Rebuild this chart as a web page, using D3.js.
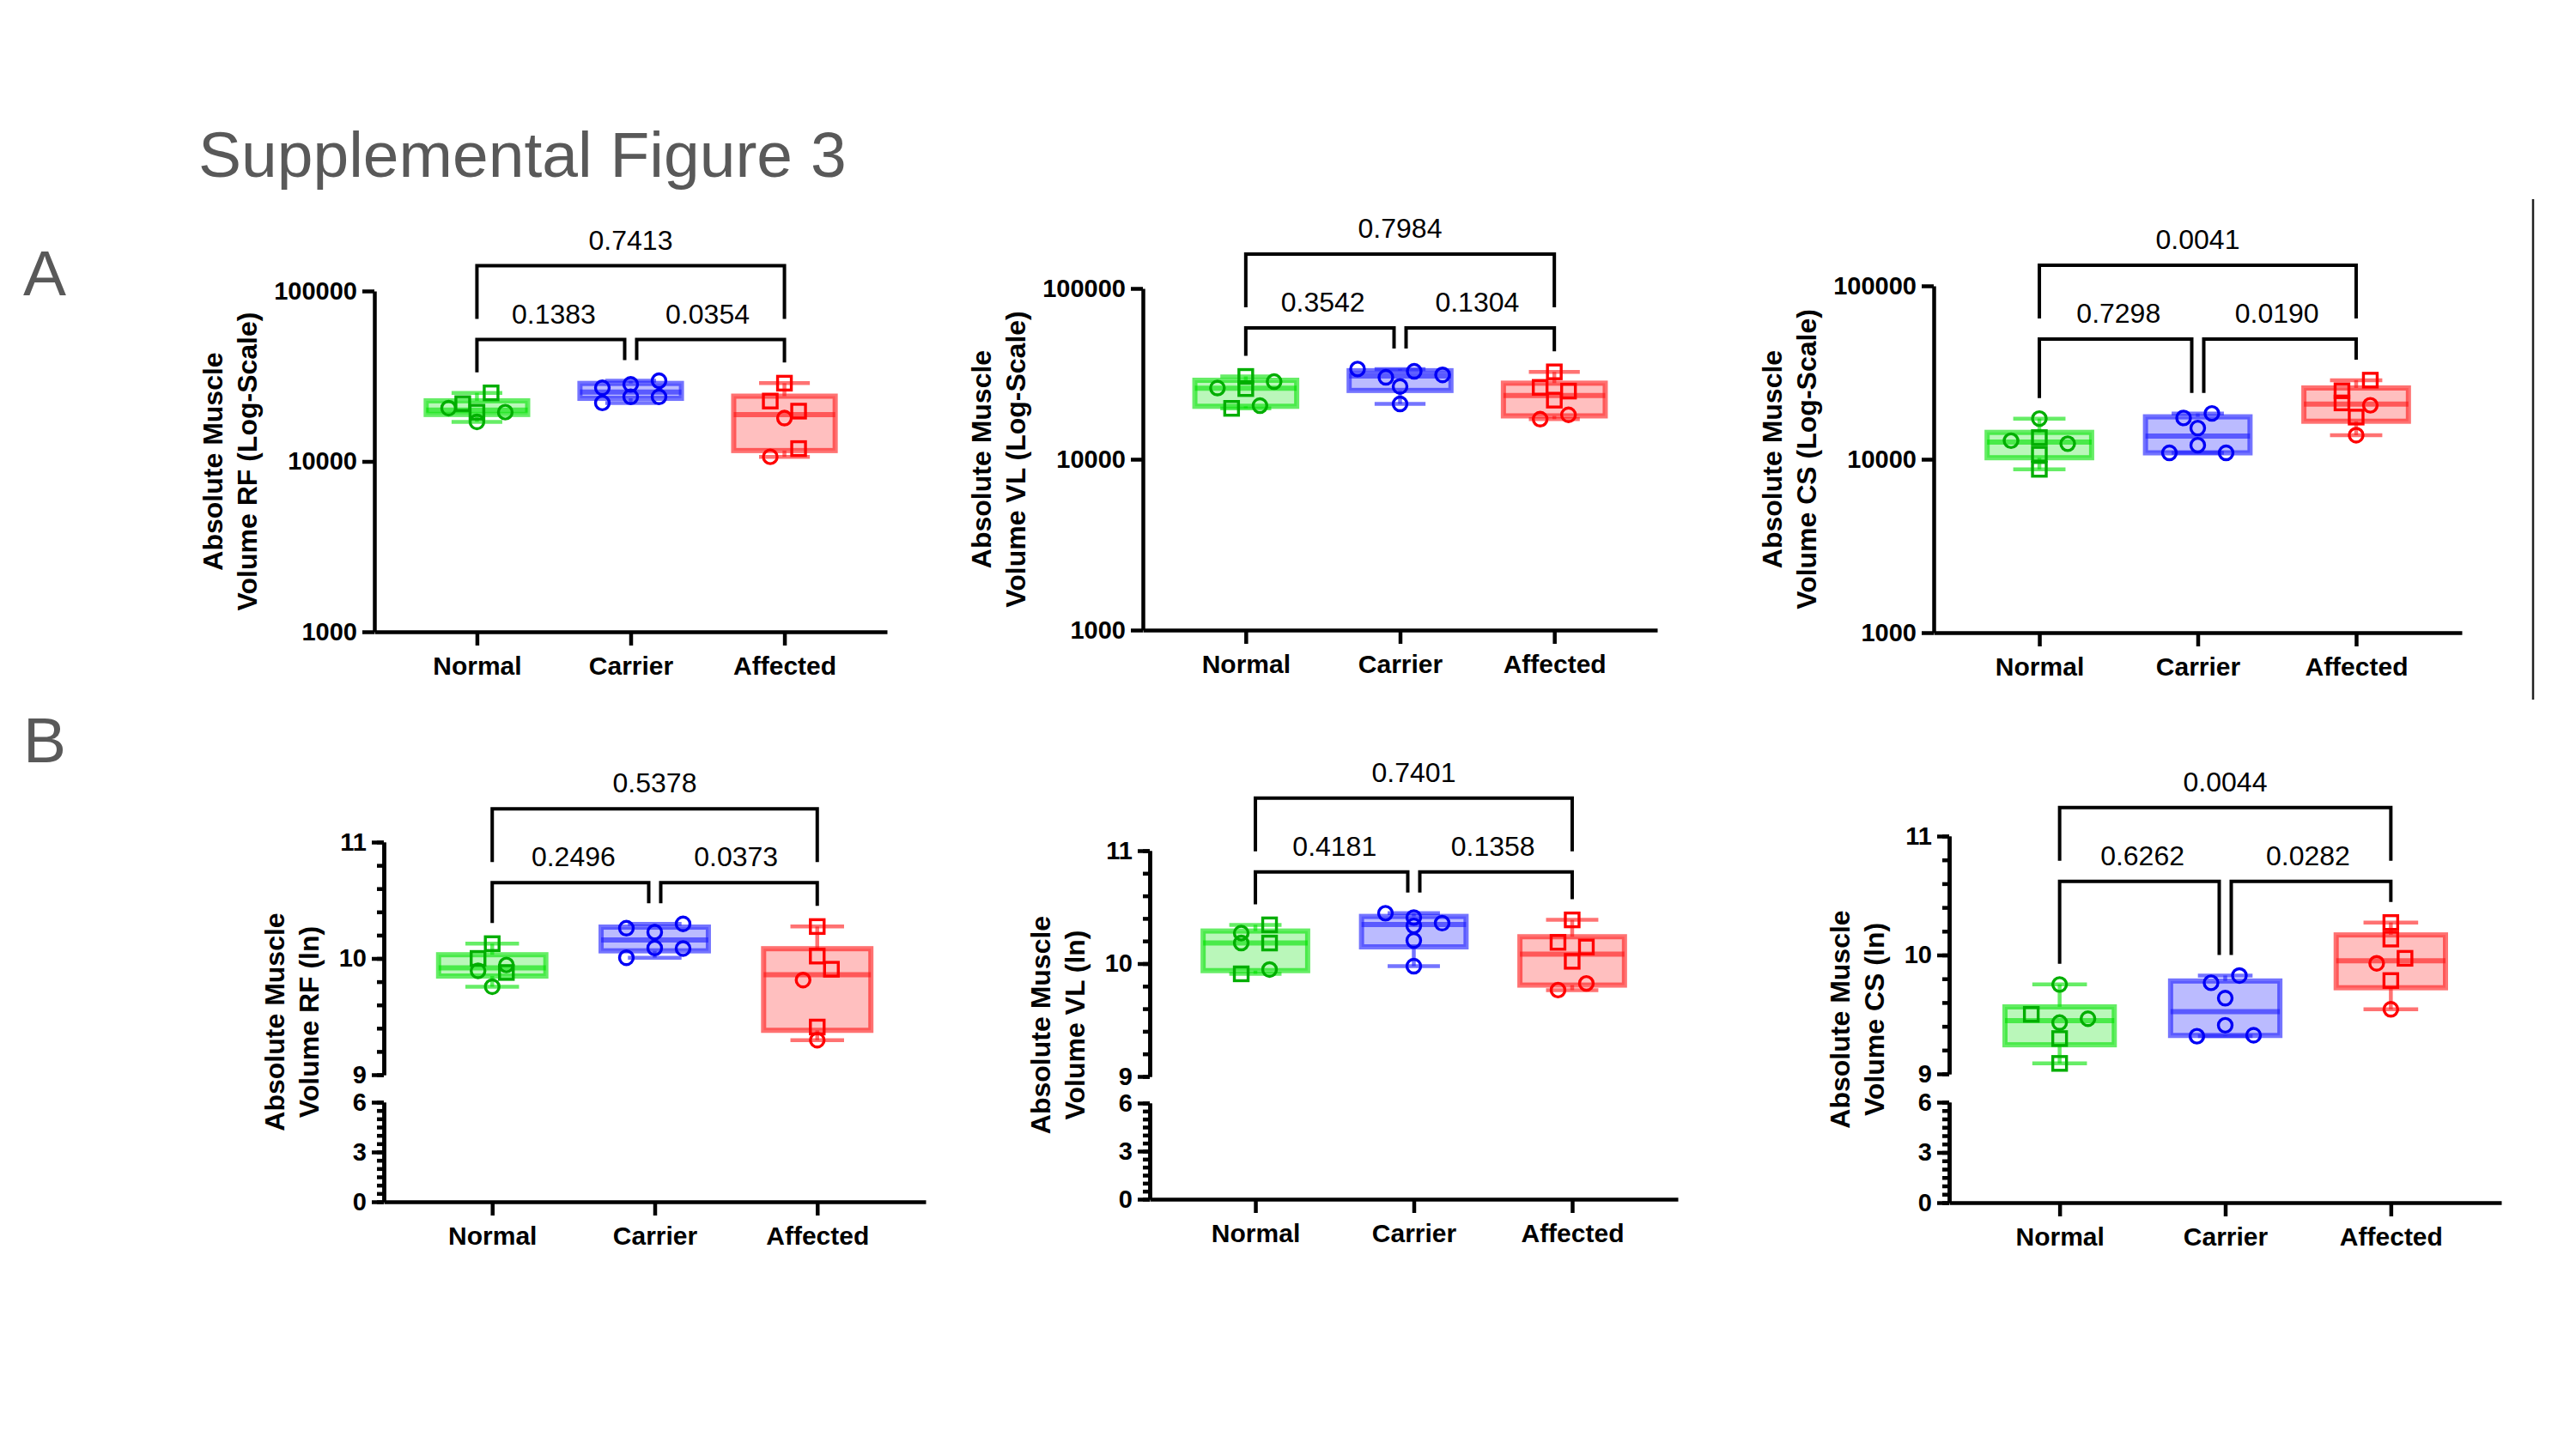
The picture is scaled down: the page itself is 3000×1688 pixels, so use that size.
<!DOCTYPE html>
<html>
<head>
<meta charset="utf-8">
<script src="https://cdn.jsdelivr.net/npm/d3@7"></script>
<style>
  html, body { margin: 0; padding: 0; background: #fff; }
  svg { display: block; }
</style>
</head>
<body>
<script>
// ---------------- DATA ----------------
const groups = ["Normal", "Carrier", "Affected"];
const logTicks = [1000, 10000, 100000];
const lnTicksUpper = [9, 10, 11];
const lnTicksLower = [0, 3, 6];

// Row A : absolute muscle volume, log scale
const rfLogValues = [[20540, 17060, 21830, 25240, 19450, 19450],
                     [27040, 22030, 28320, 23920, 29730, 23920],
                     [22600, 17950, 10640, 28780, 19720, 11890]];
const rfLogShapes = [["o","o","s","s","s","o"], ["o","o","o","o","o","o"], ["s","o","o","s","s","s"]];
const rfLogP = ["0.1383", "0.0354", "0.7413"];

const vlLogValues = [[26110, 30530, 19860, 25920, 20600, 28480],
                     [33740, 30170, 21080, 32730, 26680, 31190],
                     [26350, 17170, 32480, 22180, 18200, 25060]];
const vlLogShapes = [["o","s","s","s","o","o"], ["o","o","o","o","o","o"], ["s","o","s","s","o","s"]];
const vlLogP = ["0.3542", "0.1304", "0.7984"];

const csLogValues = [[12790, 17160, 13330, 10690, 8750, 12300],
                     [17300, 10890, 15130, 12050, 18370, 10890],
                     [21130, 24830, 17500, 13770, 28580, 20480]];
const csLogShapes = [["o","o","s","s","s","o"], ["o","o","o","o","o","o"], ["s","s","s","o","s","o"]];
const csLogP = ["0.7298", "0.0190", "0.0041"];

// Row B : absolute muscle volume, natural log
const rfLnValues = [[10.0, 9.893, 10.127, 9.757, 9.944, 9.879],
                    [10.26, 10.006, 10.226, 10.09, 10.297, 10.085],
                    [10.02, 9.814, 9.297, 10.274, 9.907, 9.41]];
const rfLnShapes = [["s","o","s","o","o","s"], ["o","o","o","o","o","o"], ["s","o","o","s","s","s"]];
const rfLnP = ["0.2496", "0.0373", "0.5378"];

const vlLnValues = [[10.182, 9.909, 10.27, 9.947, 10.343, 10.182],
                    [10.446, 10.334, 9.977, 10.408, 10.205, 10.358],
                    [10.188, 10.02, 9.765, 10.387, 10.147, 9.824]];
const vlLnShapes = [["o","s","o","o","s","s"], ["o","o","o","o","o","o"], ["s","s","o","s","s","o"]];
const vlLnP = ["0.4181", "0.1358", "0.7401"];

const csLnValues = [[9.501, 9.752, 9.431, 9.297, 9.088, 9.464],
                    [9.317, 9.766, 9.637, 9.409, 9.827, 9.325],
                    [9.930, 10.273, 10.134, 9.785, 9.543, 9.972]];
const csLnShapes = [["s","o","o","s","s","o"], ["o","o","o","o","o","o"], ["o","s","s","s","o","s"]];
const csLnP = ["0.6262", "0.0282", "0.0044"];

// ---------------- STYLE / LAYOUT ----------------
const W = 3000, H = 1688;
const FONT = '"Liberation Sans", Arial, Helvetica, sans-serif';
const palette = [
  { point: "#00ae00", fill: "rgba(0,225,0,0.27)", stroke: "rgba(0,225,0,0.6)" },
  { point: "#0000f5", fill: "rgba(30,30,255,0.30)", stroke: "rgba(30,30,255,0.62)" },
  { point: "#ff0000", fill: "rgba(255,0,0,0.25)", stroke: "rgba(255,20,20,0.6)" }
];

const panels = [
  { values: rfLogValues, shapes: rfLogShapes, p: rfLogP, label: "Volume RF (Log-Scale)", kind: "log",
    frame: { x0: 436, x1: 1033, yTop: 339, yBot: 736 } },
  { values: vlLogValues, shapes: vlLogShapes, p: vlLogP, label: "Volume VL (Log-Scale)", kind: "log",
    frame: { x0: 1331, x1: 1930, yTop: 336, yBot: 734 } },
  { values: csLogValues, shapes: csLogShapes, p: csLogP, label: "Volume CS (Log-Scale)", kind: "log",
    frame: { x0: 2252, x1: 2867, yTop: 333, yBot: 737 } },
  { values: rfLnValues, shapes: rfLnShapes, p: rfLnP, label: "Volume RF (ln)", kind: "ln",
    frame: { x0: 447, x1: 1078, y11: 981, y9: 1252, y6: 1284, y0: 1400 } },
  { values: vlLnValues, shapes: vlLnShapes, p: vlLnP, label: "Volume VL (ln)", kind: "ln",
    frame: { x0: 1339, x1: 1954, y11: 991, y9: 1254, y6: 1285, y0: 1397 } },
  { values: csLnValues, shapes: csLnShapes, p: csLnP, label: "Volume CS (ln)", kind: "ln",
    frame: { x0: 2270, x1: 2913, y11: 974, y9: 1251, y6: 1284, y0: 1401 } }
];

const svg = d3.select("body").append("svg").attr("width", W).attr("height", H)
  .attr("font-family", FONT);
svg.append("rect").attr("width", W).attr("height", H).attr("fill", "#fff");

// Figure title and panel letters
svg.append("text").attr("x", 231).attr("y", 206).attr("font-size", 75)
  .attr("fill", "#595959").text("Supplemental Figure 3");
svg.append("text").attr("x", 27).attr("y", 344).attr("font-size", 75)
  .attr("fill", "#595959").text("A");
svg.append("text").attr("x", 27).attr("y", 888).attr("font-size", 75)
  .attr("fill", "#595959").text("B");
svg.append("line").attr("x1", 2950).attr("x2", 2950).attr("y1", 232).attr("y2", 815)
  .attr("stroke", "#222").attr("stroke-width", 2.5);

function styleAxis(ax, fontSize) {
  ax.attr("font-size", null).attr("font-family", null);
  ax.select(".domain").attr("stroke", "#000").attr("stroke-width", 4.5);
  ax.selectAll(".tick line").attr("stroke", "#000").attr("stroke-width", 4.5);
  ax.selectAll(".tick text").attr("fill", "#000").attr("font-family", FONT)
    .attr("font-weight", "bold").attr("font-size", fontSize);
}

// Prism-style quartile (n+1 method)
function quartile(sorted, p) {
  const n = sorted.length, pos = (n + 1) * p;
  const lo = Math.floor(pos), f = pos - lo;
  if (lo < 1) return sorted[0];
  if (lo >= n) return sorted[n - 1];
  return sorted[lo - 1] + f * (sorted[lo] - sorted[lo - 1]);
}

// Column-scatter arrangement: points grouped into rows, centred in each row
function arrange(vals, yf, d, th) {
  const idx = vals.map((v, i) => i).sort((a, b) => yf(vals[a]) - yf(vals[b]));
  const offs = new Array(vals.length).fill(0);
  const rows = [];
  let cur = [], start = null;
  idx.forEach(i => {
    const yy = yf(vals[i]);
    if (cur.length && yy - start < th) cur.push(i);
    else { if (cur.length) rows.push(cur); cur = [i]; start = yy; }
  });
  if (cur.length) rows.push(cur);
  rows.forEach(r => {
    r.sort((a, b) => a - b);
    r.forEach((i, k) => { offs[i] = (k - (r.length - 1) / 2) * d; });
  });
  return offs;
}

panels.forEach(pn => {
  const f = pn.frame;
  const g = svg.append("g");
  const x = d3.scalePoint().domain(groups).range([f.x0, f.x1]).padding(0.667);
  const step = x.step();
  let y, baseY, midY, titleOffset;

  if (pn.kind === "log") {
    y = d3.scaleLog().domain([1000, 100000]).range([f.yBot, f.yTop]);
    baseY = f.yBot; midY = (f.yTop + f.yBot) / 2; titleOffset = 149;
    const ax = g.append("g").attr("transform", `translate(${f.x0},0)`)
      .call(d3.axisLeft(y).tickValues(logTicks).tickFormat(d3.format("d"))
        .tickSize(14).tickSizeOuter(0).tickPadding(6));
    styleAxis(ax, 29);
  } else {
    y = d3.scaleLinear().domain([9, 11]).range([f.y9, f.y11]);
    const yLow = d3.scaleLinear().domain([0, 6]).range([f.y0, f.y6]);
    baseY = f.y0; midY = (f.y11 + f.y0) / 2; titleOffset = 88;
    const minorUp = g.append("g").attr("transform", `translate(${f.x0},0)`)
      .call(d3.axisLeft(y).tickValues(d3.range(9, 11.001, 0.2)).tickFormat("")
        .tickSize(8).tickSizeOuter(0));
    styleAxis(minorUp, 29);
    const axUp = g.append("g").attr("transform", `translate(${f.x0},0)`)
      .call(d3.axisLeft(y).tickValues(lnTicksUpper).tickFormat(d3.format("d"))
        .tickSize(14).tickSizeOuter(0).tickPadding(6));
    styleAxis(axUp, 29);
    const minorLow = g.append("g").attr("transform", `translate(${f.x0},0)`)
      .call(d3.axisLeft(yLow).tickValues(d3.range(0, 6.001, 0.5)).tickFormat("")
        .tickSize(8).tickSizeOuter(0));
    styleAxis(minorLow, 29);
    const axLow = g.append("g").attr("transform", `translate(${f.x0},0)`)
      .call(d3.axisLeft(yLow).tickValues(lnTicksLower).tickFormat(d3.format("d"))
        .tickSize(14).tickSizeOuter(0).tickPadding(6));
    styleAxis(axLow, 29);
  }

  // x axis
  const axX = g.append("g").attr("transform", `translate(0,${baseY})`)
    .call(d3.axisBottom(x).tickSize(16).tickSizeOuter(0).tickPadding(13));
  styleAxis(axX, 30);

  // y axis title (two lines)
  const t2x = f.x0 - titleOffset, t1x = t2x - 40;
  [["Absolute Muscle", t1x], [pn.label, t2x]].forEach(([txt, cx]) => {
    g.append("text")
      .attr("transform", `translate(${cx + 11.5},${midY}) rotate(-90)`)
      .attr("text-anchor", "middle").attr("font-weight", "bold").attr("font-size", 32)
      .attr("fill", "#000").text(txt);
  });

  // boxes
  const bw = step * 0.66, cw = step * 0.33;
  const stats = pn.values.map(vals => {
    const s = vals.slice().sort((a, b) => a - b);
    return { min: s[0], q1: quartile(s, 0.25), med: quartile(s, 0.5), q3: quartile(s, 0.75), max: s[s.length - 1] };
  });

  groups.forEach((gr, gi) => {
    const cx = x(gr), st = stats[gi], col = palette[gi];
    const bg = g.append("g");
    // whiskers
    bg.append("line").attr("x1", cx).attr("x2", cx).attr("y1", y(st.max)).attr("y2", y(st.q3))
      .attr("stroke", col.stroke).attr("stroke-width", 4.5);
    bg.append("line").attr("x1", cx).attr("x2", cx).attr("y1", y(st.q1)).attr("y2", y(st.min))
      .attr("stroke", col.stroke).attr("stroke-width", 4.5);
    [st.max, st.min].forEach(v => {
      bg.append("line").attr("x1", cx - cw / 2).attr("x2", cx + cw / 2).attr("y1", y(v)).attr("y2", y(v))
        .attr("stroke", col.stroke).attr("stroke-width", 4.5);
    });
    // box
    bg.append("rect").attr("x", cx - bw / 2).attr("width", bw)
      .attr("y", y(st.q3)).attr("height", y(st.q1) - y(st.q3))
      .attr("fill", col.fill).attr("stroke", col.stroke).attr("stroke-width", 6);
    bg.append("line").attr("x1", cx - bw / 2).attr("x2", cx + bw / 2)
      .attr("y1", y(st.med)).attr("y2", y(st.med))
      .attr("stroke", col.stroke).attr("stroke-width", 6);

    // points
    const vals = pn.values[gi];
    const offs = arrange(vals, y, 33, 14);
    vals.forEach((v, i) => {
      const px = cx + offs[i], py = y(v);
      if (pn.shapes[gi][i] === "s") {
        g.append("rect").attr("x", px - 8).attr("y", py - 8).attr("width", 16).attr("height", 16)
          .attr("fill", "none").attr("stroke", col.point).attr("stroke-width", 3.4);
      } else {
        g.append("circle").attr("cx", px).attr("cy", py).attr("r", 8)
          .attr("fill", "none").attr("stroke", col.point).attr("stroke-width", 3.4);
      }
    });
  });

  // significance brackets
  const xN = x(groups[0]), xC = x(groups[1]), xA = x(groups[2]);
  const legN = y(stats[0].max) - 24, legC = y(stats[1].max) - 24, legA = y(stats[2].max) - 24;
  const topPt = Math.min(...stats.map(s => y(s.max)));
  const lower = topPt - 48, upper = lower - 86;
  const br = g.append("g").attr("fill", "none").attr("stroke", "#000").attr("stroke-width", 4);
  br.append("path").attr("d", `M${xN},${legN}V${lower}H${xC - 7}V${legC}`);
  br.append("path").attr("d", `M${xC + 7},${legC}V${lower}H${xA}V${legA}`);
  br.append("path").attr("d", `M${xN},${lower - 24}V${upper}H${xA}V${lower - 24}`);
  [[(xN + xC) / 2, lower, pn.p[0]], [(xC + xA) / 2, lower, pn.p[1]], [xC, upper, pn.p[2]]]
    .forEach(([tx, ly, txt]) => {
      g.append("text").attr("x", tx).attr("y", ly - 19).attr("text-anchor", "middle")
        .attr("font-size", 32).attr("fill", "#000").text(txt);
    });
});
</script>
</body>
</html>
